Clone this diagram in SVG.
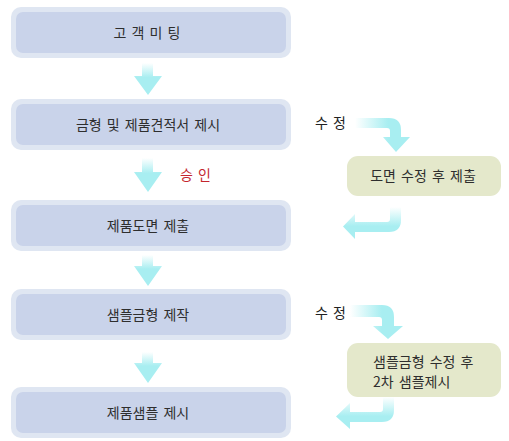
<svg xmlns="http://www.w3.org/2000/svg" width="509" height="441" viewBox="0 0 509 441">
<style>
.t{font-family:"Noto Sans CJK KR","Noto Sans",sans-serif;font-size:14px;fill:#2e2e2e;word-spacing:2px}
.c{text-anchor:middle}
.red{fill:#c4262e}
.o{fill:#dfe6f2}
.i{fill:#c9d3ea}
.g{fill:#e4e8cb}
</style>
<defs>
<linearGradient id="gd" x1="0" y1="0" x2="0" y2="1"><stop offset="0" stop-color="#ffffff"/><stop offset="0.45" stop-color="#a8eef1"/><stop offset="1" stop-color="#a8eef1"/></linearGradient>
<linearGradient id="gh" x1="0" y1="0" x2="1" y2="0"><stop offset="0" stop-color="#ffffff"/><stop offset="0.6" stop-color="#a8eef1"/><stop offset="1" stop-color="#a8eef1"/></linearGradient>
<linearGradient id="gv" x1="0" y1="0" x2="0" y2="1"><stop offset="0" stop-color="#ffffff"/><stop offset="0.6" stop-color="#a8eef1"/><stop offset="1" stop-color="#a8eef1"/></linearGradient>
</defs>
<g id="connectors">
<path fill="url(#gd)" d="M142,63 H153 V76 H162 L148,95 L134,76 H142 Z"/>
<path fill="url(#gd)" d="M142,158 H153 V172 H162 L148,192 L134,172 H142 Z"/>
<path fill="url(#gd)" d="M142,255 H153 V266 H162 L148,286 L134,266 H142 Z"/>
<path fill="url(#gd)" d="M142,352 H153 V363 H162 L148,383 L134,363 H142 Z"/>
<path fill="url(#gh)" d="M355,118 H389 Q401,118 401,130 V137 H410 L396,152 L383,137 H390 V131 Q390,128 387,128 H355 Z"/>
<path fill="url(#gv)" d="M390,207 H401 V220 Q401,232 389,232 H355 V239 L343,226.5 L355,214 V222 H387 Q390,222 390,219 Z"/>
<path fill="url(#gh)" d="M350,305 H382 Q394,305 394,317 V326 H403 L388,339 L373,326 H382 V320 Q382,317 379,317 H350 Z"/>
<path fill="url(#gv)" d="M383,397 H394 V410 Q394,422 382,422 H350 V429 L336,416.5 L350,403 V412 H380 Q383,412 383,409 Z"/>
<text class="t red" x="180" y="180">승 인</text>
<text class="t" x="315" y="128" style="fill:#222">수 정</text>
<text class="t" x="315" y="318" style="fill:#222">수 정</text>
</g>
<g id="n1"><rect class="o" x="11" y="7" width="280" height="51" rx="10"/><rect class="i" x="16" y="12" width="270" height="41" rx="7"/><text class="t c" x="147" y="37.5">고 객 미 팅</text></g>
<g id="n2"><rect class="o" x="11" y="99" width="280" height="51" rx="10"/><rect class="i" x="16" y="104" width="270" height="41" rx="7"/><text class="t c" x="148" y="129.5">금형 및 제품견적서 제시</text></g>
<g id="n3"><rect class="o" x="11" y="200" width="280" height="51" rx="10"/><rect class="i" x="16" y="205" width="270" height="41" rx="7"/><text class="t c" x="148" y="230.5">제품도면 제출</text></g>
<g id="n4"><rect class="o" x="11" y="289" width="280" height="51" rx="10"/><rect class="i" x="16" y="294" width="270" height="41" rx="7"/><text class="t c" x="148" y="319.5">샘플금형 제작</text></g>
<g id="n5"><rect class="o" x="11" y="387" width="280" height="51" rx="10"/><rect class="i" x="16" y="392" width="270" height="41" rx="7"/><text class="t c" x="148" y="417.5">제품샘플 제시</text></g>
<g id="r1"><rect class="g" x="347" y="156" width="154" height="40" rx="11"/><text class="t c" x="423" y="181">도면 수정 후 제출</text></g>
<g id="r2"><rect class="g" x="347" y="343" width="154" height="54" rx="11"/><text class="t" x="373" y="367">샘플금형 수정 후</text><text class="t" x="373" y="387">2차 샘플제시</text></g>
</svg>
